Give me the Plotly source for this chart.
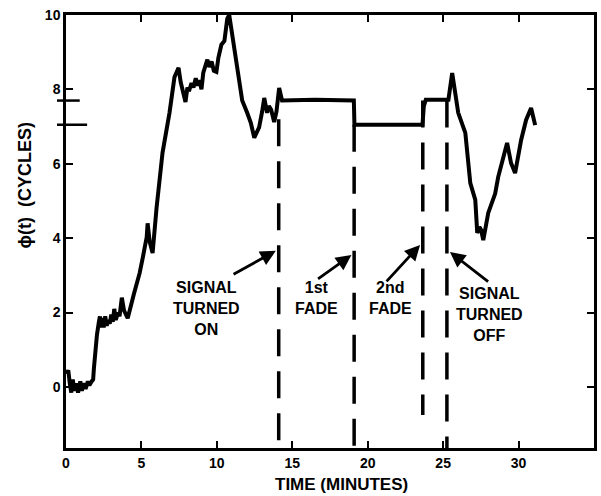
import plotly.graph_objects as go

# Phase record phi(t) in cycles versus time in minutes
time_min = [
    0.05, 0.15, 0.25, 0.35, 0.45, 0.55, 0.70, 0.80, 0.95, 1.05, 1.20, 1.30, 1.45, 1.55, 1.70, 1.80,
    1.85, 1.95, 2.05, 2.18, 2.25, 2.30, 2.40, 2.50, 2.60, 2.70, 2.80, 2.90, 3.00, 3.10, 3.20, 3.30,
    3.45, 3.55, 3.70, 3.85, 4.09, 4.50, 4.88, 5.10, 5.35, 5.41, 5.55, 5.74, 6.00, 6.40, 6.86, 7.19,
    7.35, 7.46, 7.60, 7.75, 7.92, 8.05, 8.15, 8.32, 8.45, 8.60, 8.72, 8.84, 8.98, 9.10, 9.25, 9.37,
    9.50, 9.65, 9.80, 9.97, 10.10, 10.30, 10.50, 10.69, 10.82, 10.96, 11.15, 11.35, 11.68, 12.01,
    12.25, 12.48, 12.65, 12.80, 13.00, 13.14, 13.33, 13.45, 13.60, 13.80, 13.95, 14.13, 14.32,
    16.50, 19.08, 19.12, 21.50, 23.63, 23.72, 23.85, 25.35, 25.45, 25.60, 26.00, 26.47, 26.80,
    27.13, 27.26, 27.40, 27.52, 27.66, 27.99, 28.45, 28.65, 29.10, 29.24, 29.50, 29.77, 30.17,
    30.50, 30.83, 31.10,
]
phase_cycles = [
    0.35, 0.45, 0.10, -0.15, 0.20, -0.10, 0.10, -0.15, 0.15, -0.10, 0.10, -0.05, 0.15, 0.05, 0.15, 0.20,
    0.50, 1.00, 1.40, 1.75, 1.90, 1.60, 1.85, 1.60, 1.90, 1.65, 1.80, 1.70, 1.95, 1.75, 2.10, 1.80,
    2.00, 1.90, 2.40, 2.05, 1.85, 2.50, 3.06, 3.50, 4.03, 4.40, 3.90, 3.60, 4.80, 6.30, 7.37, 8.33,
    8.45, 8.58, 8.20, 7.90, 7.66, 8.05, 7.95, 8.17, 8.05, 8.30, 8.10, 8.25, 8.00, 8.45, 8.70, 8.80,
    8.60, 8.75, 8.50, 8.47, 8.85, 9.20, 9.30, 9.90, 10.00, 9.60, 9.10, 8.50, 7.70, 7.37,
    7.10, 6.70, 6.85, 6.98, 7.40, 7.77, 7.37, 7.55, 7.45, 7.12, 7.40, 8.04, 7.70,
    7.72, 7.70, 7.05, 7.05, 7.05, 7.55, 7.72, 7.72, 8.10, 8.44, 7.37, 6.83, 5.48,
    5.03, 4.14, 4.30, 4.22, 3.95, 4.68, 5.20, 5.65, 6.29, 6.56, 6.02, 5.75, 6.64,
    7.18, 7.50, 7.04,
]

# Event markers: time of each event and vertical extent of its dashed line
event_times = [14.10, 19.10, 23.65, 25.25]
event_tops = [7.20, 7.05, 7.70, 7.70]
event_bottoms = [-1.64, -1.80, -0.75, -1.70]

# Event labels, label anchor and arrow tail/tip
event_labels = ["SIGNAL<br>TURNED<br>ON", "1st<br>FADE", "2nd<br>FADE", "SIGNAL<br>TURNED<br>OFF"]
label_x = [9.30, 16.61, 21.49, 28.08]
label_y = [2.12, 2.40, 2.40, 1.95]
arrow_tail_x = [11.01, 16.61, 21.16, 28.08]
arrow_tail_y = [3.01, 2.88, 2.80, 2.80]
arrow_tip_x = [13.91, 18.92, 23.47, 25.45]
arrow_tip_y = [3.66, 3.55, 3.82, 3.63]

# Reference levels marked on the phase axis
level_values = [7.70, 7.05]
level_lengths = [0.026, 0.040]

x_ticks = [0, 5, 10, 15, 20, 25, 30, 35]
y_ticks = [0, 2, 4, 6, 8, 10]
x_range = [0, 35]
y_range = [-1.64, 10]

FONT = "Liberation Sans, Arial, sans-serif"
INK = "black"

fig = go.Figure()

fig.add_trace(go.Scatter(
    x=time_min, y=phase_cycles, mode="lines",
    line=dict(color=INK, width=4), hoverinfo="skip", showlegend=False,
))

for t, top, bottom in zip(event_times, event_tops, event_bottoms):
    fig.add_trace(go.Scatter(
        x=[t, t], y=[top, bottom], mode="lines", cliponaxis=False,
        line=dict(color=INK, width=3.5, dash="27px,15px"),
        hoverinfo="skip", showlegend=False,
    ))

for lbl, lx, ly in zip(event_labels, label_x, label_y):
    fig.add_annotation(
        x=lx, y=ly, xref="x", yref="y", text=lbl, showarrow=False,
        xanchor="center", yanchor="middle",
        font=dict(family=FONT, size=16, color=INK, weight="bold"),
        align="center",
    )

for tx, ty, hx, hy in zip(arrow_tail_x, arrow_tail_y, arrow_tip_x, arrow_tip_y):
    fig.add_annotation(
        x=hx, y=hy, ax=tx, ay=ty, xref="x", yref="y", axref="x", ayref="y",
        text="", showarrow=True, arrowhead=2, arrowsize=1.1, arrowwidth=2.8,
        arrowcolor=INK, standoff=0, startstandoff=0,
    )

for lv, ln in zip(level_values, level_lengths):
    fig.add_shape(
        type="line", xref="paper", yref="y", x0=-0.017, x1=ln, y0=lv, y1=lv,
        line=dict(color=INK, width=2.5),
    )

fig.add_annotation(
    x=0.522, y=-0.085, xref="paper", yref="paper", text="TIME (MINUTES)",
    xanchor="center", yanchor="middle",
    showarrow=False, font=dict(family=FONT, size=17, color=INK, weight="bold"),
)
fig.add_annotation(
    x=-0.077, y=0.607, xref="paper", yref="paper", text="ϕ(t)  (CYCLES)",
    xanchor="center", yanchor="middle",
    textangle=-90, showarrow=False,
    font=dict(family=FONT, size=18, color=INK, weight="bold"),
)

axis_common = dict(
    showline=True, linecolor=INK, linewidth=2.5, mirror="allticks",
    ticks="inside", ticklen=7, tickwidth=2, tickcolor=INK,
    showgrid=False, zeroline=False,
    tickfont=dict(family=FONT, size=14, color=INK, weight="bold"),
)

fig.update_xaxes(range=x_range, tickvals=x_ticks, **axis_common)
fig.update_yaxes(range=y_range, tickvals=y_ticks, **axis_common)

fig.update_layout(
    width=601, height=496,
    margin=dict(l=66, r=4, t=15, b=48),
    plot_bgcolor="white", paper_bgcolor="white",
    showlegend=False,
)

fig.write_html("out.html")
